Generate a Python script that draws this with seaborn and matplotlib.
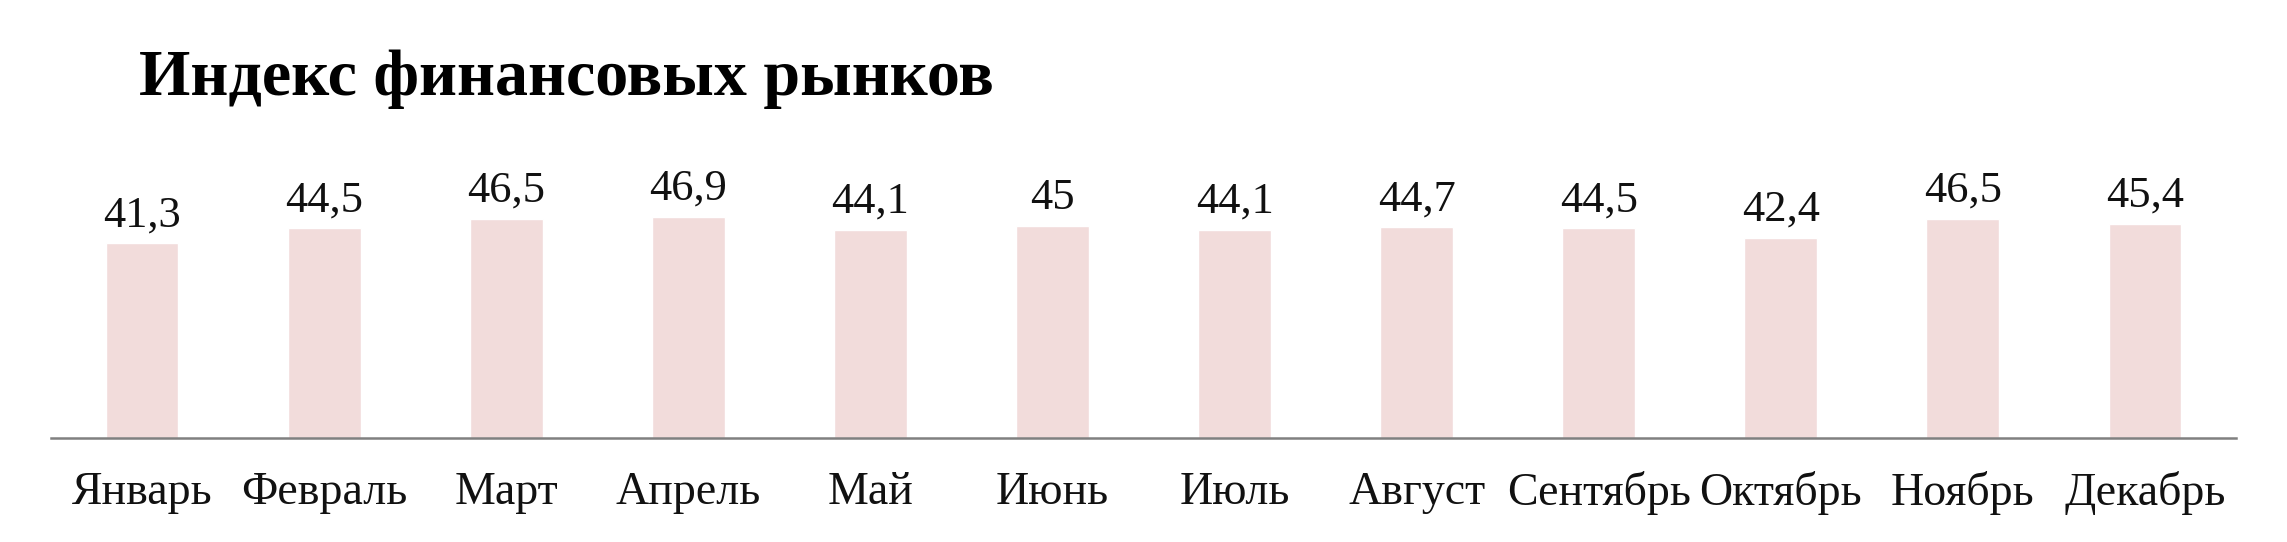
import numpy as np
import matplotlib
matplotlib.use("Agg")
import matplotlib.pyplot as plt
import seaborn as sns

months = [
    "Январь", "Февраль", "Март", "Апрель", "Май", "Июнь",
    "Июль", "Август", "Сентябрь", "Октябрь", "Ноябрь", "Декабрь"
]

values = [41.3, 44.5, 46.5, 46.9, 44.1, 45.0, 44.1, 44.7, 44.5, 42.4, 46.5, 45.4]

value_labels = ["41,3", "44,5", "46,5", "46,9", "44,1", "45",
                "44,1", "44,7", "44,5", "42,4", "46,5", "45,4"]

sns.set_theme(style="white")
plt.rcParams["font.family"] = ["Liberation Serif", "DejaVu Serif"]

fig = plt.figure(figsize=(22.87, 5.42), dpi=100)
ax = fig.add_axes([0.0223, 0.1919, 0.9554, 0.4345])

sns.barplot(
    x=months,
    y=values,
    color="#F2DCDB",
    saturation=1,
    width=0.4,
    ax=ax
)

ax.bar_label(
    ax.containers[0],
    labels=value_labels,
    padding=6,
    fontsize=32,
    color="#111111"
)

ax.set_xlim(-0.5, 11.5)
ax.set_ylim(0, 50)

sns.despine(ax=ax, left=True, top=True, right=True)
ax.spines["bottom"].set_color("#808080")
ax.spines["bottom"].set_linewidth(1.8)

ax.set_yticks([])
ax.set_ylabel("")
ax.tick_params(axis="x", length=0, pad=24, labelsize=33, labelcolor="#111111")

fig.text(
    0.0608,
    0.8247,
    "Индекс финансовых рынков",
    fontsize=47.5,
    fontweight="bold",
    va="baseline",
    ha="left",
    color="#000000"
)

fig.savefig("out.png", dpi=100)
